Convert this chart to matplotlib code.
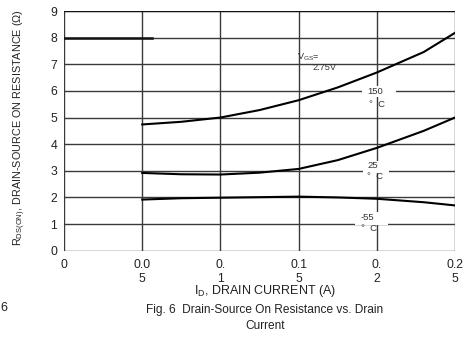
import matplotlib
matplotlib.use("Agg")
import matplotlib.pyplot as plt
from matplotlib.patches import Rectangle

plt.rcParams['font.family'] = ['Liberation Sans', 'DejaVu Sans']

# drain current (A) and on-resistance (ohm)
current = [0.05, 0.075, 0.1, 0.125, 0.15, 0.175, 0.2, 0.23, 0.25]
r_150c = [4.74, 4.84, 5.0, 5.28, 5.65, 6.13, 6.69, 7.46, 8.18]
r_25c = [2.92, 2.87, 2.86, 2.93, 3.07, 3.40, 3.86, 4.50, 5.0]
r_m55c = [1.92, 1.97, 1.99, 2.01, 2.03, 2.0, 1.95, 1.82, 1.70]

x_ticks = [0, 0.05, 0.1, 0.15, 0.2, 0.25]
x_tick_labels = ["0", "0.0\n5", "0.\n1", "0.1\n5", "0.\n2", "0.2\n5"]
y_ticks = list(range(10))

W, H = 472, 337
fig = plt.figure(figsize=(W / 100, H / 100), dpi=100)
ax = fig.add_axes([64 / W, (H - 250.7) / H, (455 - 64) / W, (250.7 - 11) / H])

grid_c = "#3a3a3a"
for y in y_ticks:
    ax.axhline(y, color=grid_c, lw=1.0, zorder=1)
for x in x_ticks:
    ax.axvline(x, color=grid_c, lw=1.0, zorder=1)
ax.axhline(9, color="#111111", lw=1.6, zorder=1)
ax.plot([0, 0.056], [8, 8], color="#111111", lw=1.8, zorder=1)

# white patches behind temperature labels
for x0, x1, y0, y1 in [(0.1905, 0.2123, 5.76, 6.19),
                       (0.1912, 0.2078, 2.90, 3.36),
                       (0.186, 0.207, 0.97, 1.47)]:
    ax.add_patch(Rectangle((x0, y0), x1 - x0, y1 - y0, fc="white",
                           ec="none", zorder=2))

for r in (r_150c, r_25c, r_m55c):
    ax.plot(current, r, color="black", lw=1.5, zorder=3)

fs = 6.8
ax.text(0.149, 7.27, "V$_{\\mathregular{GS}}$=", fontsize=6.6, color="#333333",
        ha="left", va="center", zorder=4)
ax.text(0.1586, 6.86, "2.75V", fontsize=6.6, color="#333333",
        ha="left", va="center", zorder=4)
for label, xc, y1, y2 in [("150", 0.199, 5.96, 5.5),
                          ("25", 0.1976, 3.2, 2.78),
                          ("-55", 0.194, 1.23, 0.82)]:
    ax.text(xc, y1, label, fontsize=fs, color="#333333", ha="center",
            va="center", zorder=4)
    ax.text(xc + 0.001, y2, "°  C", fontsize=fs, color="#333333",
            ha="center", va="center", zorder=4)

ax.set_xlim(0, 0.25)
ax.set_ylim(0, 9)
ax.set_xticks(x_ticks)
ax.set_xticklabels(x_tick_labels, fontsize=8.8, color="#222222",
                   linespacing=1.2, va="top")
ax.set_yticks(y_ticks)
ax.set_yticklabels([str(v) for v in y_ticks], fontsize=8.8, color="#222222")
ax.tick_params(axis="both", length=0)
ax.tick_params(axis="x", pad=6)
ax.tick_params(axis="y", pad=5)
for s in ax.spines.values():
    s.set_visible(False)

fig.text(20 / W, 1 - 128 / H,
         "R$_{\\mathregular{DS(ON)}}$, DRAIN-SOURCE ON RESISTANCE (Ω)",
         rotation=90, fontsize=7.8, color="#222222", ha="center", va="center")
fig.text(265 / W, 1 - 291 / H, "I$_{\\mathregular{D}}$, DRAIN CURRENT (A)",
         fontsize=9, color="#222222", ha="center", va="center")
fig.text(265 / W, 1 - 318 / H,
         "Fig. 6  Drain-Source On Resistance vs. Drain\nCurrent",
         fontsize=8.6, color="#222222", ha="center", va="center",
         linespacing=1.45)
fig.text(4 / W, 1 - 308 / H, "6", fontsize=9, color="#222222",
         ha="center", va="center")

fig.savefig("out.png", dpi=100)
